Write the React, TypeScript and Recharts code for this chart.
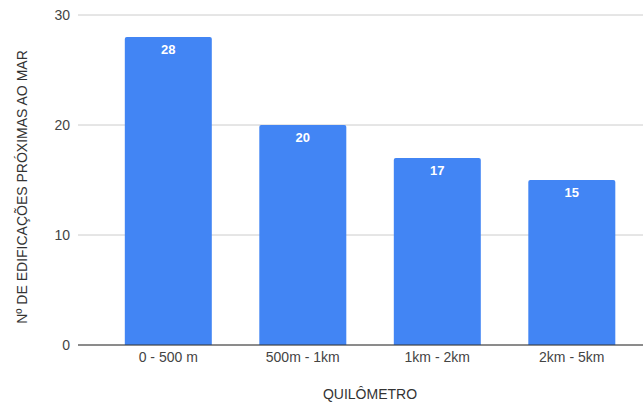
import React from "react";
import { BarChart, Bar, XAxis, YAxis, CartesianGrid, LabelList, Label } from "recharts";

const categories = ["0 - 500 m", "500m - 1km", "1km - 2km", "2km - 5km"];
const buildings = [28, 20, 17, 15];
const yTicks = [0, 10, 20, 30];

const data = categories.map((c, i) => ({ name: c, value: buildings[i] }));

const FONT = "Arial, 'Liberation Sans', sans-serif";

export default function App() {
  return (
    <div style={{ position: "absolute", left: 0, top: 0, width: 643, height: 403, background: "#fff" }}>
      <BarChart
        width={643}
        height={403}
        data={data}
        margin={{ top: 15, right: 0, bottom: 28, left: 0 }}
        barCategoryGap="17.7%"
      >
        <CartesianGrid vertical={false} stroke="#cccccc" />
        <XAxis
          dataKey="name"
          height={30}
          axisLine={{ stroke: "#333333" }}
          tickLine={false}
          tickSize={0}
          tickMargin={7}
          padding={{ left: 23, right: 4 }}
          tick={{ fill: "#444444", fontSize: 14, fontFamily: FONT }}
        >
          <Label
            content={() => (
              <text x={370} y={399} textAnchor="middle" fill="#333333" fontSize={14} fontFamily={FONT}>
                QUILÔMETRO
              </text>
            )}
          />
        </XAxis>
        <YAxis
          width={78}
          domain={[0, 30]}
          ticks={yTicks}
          axisLine={false}
          tickLine={false}
          tickSize={0}
          tickMargin={8}
          tick={{ fill: "#444444", fontSize: 14, fontFamily: FONT }}
        >
          <Label
            content={() => (
              <text
                x={22}
                y={187}
                transform="rotate(-90 22 187)"
                textAnchor="middle"
                dominantBaseline="central"
                fill="#333333"
                fontSize={14}
                fontFamily={FONT}
              >
                Nº DE EDIFICAÇÕES PRÓXIMAS AO MAR
              </text>
            )}
          />
        </YAxis>
        <Bar dataKey="value" fill="#4285F4" radius={[2, 2, 0, 0]} isAnimationActive={false}>
          <LabelList
            dataKey="value"
            position="insideTop"
            offset={8}
            fill="#ffffff"
            fontSize={13}
            fontWeight="bold"
            fontFamily={FONT}
          />
        </Bar>
      </BarChart>
    </div>
  );
}
